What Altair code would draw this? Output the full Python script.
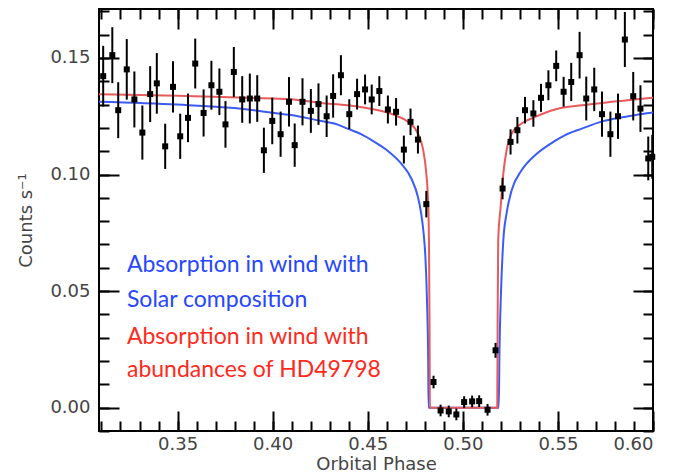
import altair as alt
import pandas as pd

# ---- data ----
phase = [0.3109, 0.3157, 0.3188, 0.3233, 0.3273, 0.3315, 0.3356, 0.3391, 0.3435, 0.3476,
         0.3514, 0.3555, 0.3593, 0.3637, 0.3678, 0.3720, 0.3752, 0.3796, 0.3840, 0.3880,
         0.3919, 0.3954, 0.3998, 0.4042, 0.4086, 0.4116, 0.4157, 0.4201, 0.4241, 0.4284,
         0.4318, 0.4359, 0.4403, 0.4444, 0.4486, 0.4521, 0.4561, 0.4606, 0.4649, 0.4690,
         0.4725, 0.4764, 0.4808, 0.4846, 0.4883, 0.4926, 0.4966, 0.5007, 0.5049, 0.5086,
         0.5130, 0.5172, 0.5209, 0.5251, 0.5287, 0.5327, 0.5371, 0.5411, 0.5450, 0.5491,
         0.5530, 0.5570, 0.5614, 0.5649, 0.5691, 0.5732, 0.5776, 0.5816, 0.5852, 0.5896,
         0.5934, 0.5975, 0.5996]
rate = [0.1422, 0.1512, 0.1276, 0.1451, 0.1322, 0.1180, 0.1345, 0.1391, 0.1121, 0.1376,
        0.1164, 0.1243, 0.1476, 0.1264, 0.1383, 0.1355, 0.1215, 0.1440, 0.1322, 0.1326,
        0.1326, 0.1104, 0.1230, 0.1173, 0.1312, 0.1126, 0.1312, 0.1273, 0.1302, 0.1250,
        0.1337, 0.1426, 0.1259, 0.1345, 0.1365, 0.1322, 0.1358, 0.1279, 0.1269, 0.1107,
        0.1226, 0.1150, 0.0873, 0.0110, -0.0012, -0.0016, -0.0029, 0.0024, 0.0027, 0.0028,
        -0.0009, 0.0246, 0.0940, 0.1140, 0.1190, 0.1276, 0.1262, 0.1329, 0.1383, 0.1466,
        0.1355, 0.1397, 0.1512, 0.1326, 0.1365, 0.1259, 0.1173, 0.1250, 0.1579, 0.1336,
        0.1283, 0.1069, 0.1076]
err = [0.0130, 0.0120, 0.0120, 0.0130, 0.0120, 0.0116, 0.0120, 0.0130, 0.0097, 0.0110,
       0.0097, 0.0104, 0.0107, 0.0101, 0.0105, 0.0100, 0.0100, 0.0107, 0.0100, 0.0107,
       0.0100, 0.0097, 0.0100, 0.0097, 0.0106, 0.0093, 0.0101, 0.0094, 0.0089, 0.0089,
       0.0093, 0.0086, 0.0064, 0.0066, 0.0064, 0.0064, 0.0064, 0.0060, 0.0059, 0.0060,
       0.0057, 0.0060, 0.0057, 0.0027, 0.0025, 0.0025, 0.0025, 0.0025, 0.0025, 0.0025,
       0.0025, 0.0032, 0.0046, 0.0054, 0.0057, 0.0057, 0.0057, 0.0060, 0.0064, 0.0066,
       0.0064, 0.0082, 0.0100, 0.0094, 0.0093, 0.0097, 0.0097, 0.0097, 0.0118, 0.0104,
       0.0100, 0.0094, 0.0094]

blue_phase = [0.3087, 0.3500, 0.3800, 0.4000, 0.4095, 0.4254, 0.4324, 0.4394, 0.4465, 0.4535,
              0.4606, 0.4676, 0.4729, 0.4764, 0.4781, 0.4794, 0.4803, 0.4812, 0.4818, 0.4820,
              0.5189, 0.5193, 0.5201, 0.5213, 0.5230, 0.5257, 0.5309, 0.5380, 0.5450, 0.5538,
              0.5626, 0.5732, 0.5870, 0.6000]
blue_rate = [0.1312, 0.1300, 0.1285, 0.1265, 0.1255, 0.1230, 0.1219, 0.1197, 0.1173, 0.1140,
             0.1101, 0.1047, 0.0983, 0.0904, 0.0833, 0.0747, 0.0650, 0.0450, 0.0200, 0.0000,
             0.0000, 0.0250, 0.0500, 0.0718, 0.0833, 0.0933, 0.1018, 0.1083, 0.1126, 0.1169,
             0.1197, 0.1228, 0.1250, 0.1266]
red_phase = [0.3087, 0.3500, 0.4000, 0.4095, 0.4254, 0.4394, 0.4535, 0.4641, 0.4711, 0.4764,
             0.4790, 0.4808, 0.4817, 0.4822, 0.4825, 0.4827, 0.5181, 0.5183, 0.5186, 0.5199,
             0.5213, 0.5230, 0.5257, 0.5309, 0.5380, 0.5485, 0.5626, 0.5732, 0.6000]
red_rate = [0.1344, 0.1338, 0.1326, 0.1323, 0.1307, 0.1297, 0.1279, 0.1255, 0.1226, 0.1176,
            0.1112, 0.1004, 0.0890, 0.0718, 0.0350, 0.0000, 0.0000, 0.0350, 0.0718, 0.0861,
            0.1004, 0.1104, 0.1176, 0.1219, 0.1247, 0.1279, 0.1297, 0.1307, 0.1329]

note_text = ["Absorption in wind with", "Solar composition",
             "Absorption in wind with", "abundances of HD49798"]
note_phase = [0.3234, 0.3234, 0.3234, 0.3234]
note_rate = [0.0581, 0.0430, 0.0272, 0.0130]
note_color = ["#2746ff", "#2746ff", "#ff2a1c", "#ff2a1c"]

major_x = [0.35, 0.40, 0.45, 0.50, 0.55, 0.60]
minor_x = [0.31, 0.32, 0.33, 0.34, 0.35, 0.36, 0.37, 0.38, 0.39, 0.40, 0.41, 0.42, 0.43,
           0.44, 0.45, 0.46, 0.47, 0.48, 0.49, 0.50, 0.51, 0.52, 0.53, 0.54, 0.55, 0.56,
           0.57, 0.58, 0.59, 0.60]
major_y = [0.00, 0.05, 0.10, 0.15]
minor_y = [-0.01, 0.00, 0.01, 0.02, 0.03, 0.04, 0.05, 0.06, 0.07, 0.08, 0.09, 0.10, 0.11,
           0.12, 0.13, 0.14, 0.15, 0.16, 0.17]

XDOM = [0.3087, 0.600]
YDOM = [-0.010, 0.171]
MAJ = 20
MIN = 10

obs = pd.DataFrame({"phase": phase, "rate": rate, "err": err})
obs["lo"] = obs["rate"] - obs["err"]
obs["hi"] = obs["rate"] + obs["err"]
blue = pd.DataFrame({"phase": blue_phase, "rate": blue_rate})
red = pd.DataFrame({"phase": red_phase, "rate": red_rate})
notes = pd.DataFrame({"phase": note_phase, "rate": note_rate, "text": note_text, "color": note_color})

xs = alt.Scale(domain=XDOM, nice=False, zero=False)
ys = alt.Scale(domain=YDOM, nice=False, zero=False)


def xaxis(orient, values, size, labels, title=None):
    kw = dict(orient=orient, values=values, tickSize=size, offset=-size, labels=labels,
              domain=False, grid=False, title=title)
    if labels:
        kw.update(format=".2f", labelPadding=4, titlePadding=2)
    return alt.Axis(**kw)


def yaxis(orient, values, size, labels, title=None):
    kw = dict(orient=orient, values=values, tickSize=size, offset=-size, labels=labels,
              domain=False, grid=False, title=title)
    if labels:
        kw.update(format=".2f", labelPadding=9, titlePadding=14)
    return alt.Axis(**kw)


blue_line = alt.Chart(blue).mark_line(color="#3a5cf5", strokeWidth=2, interpolate="monotone").encode(
    x=alt.X("phase:Q", scale=xs, axis=xaxis("top", major_x, MAJ, False)),
    y=alt.Y("rate:Q", scale=ys, axis=yaxis("right", major_y, MAJ, False)),
)
red_line = alt.Chart(red).mark_line(color="#ea5a5a", strokeWidth=2, interpolate="monotone").encode(
    x=alt.X("phase:Q", scale=xs, axis=xaxis("top", minor_x, MIN, False)),
    y=alt.Y("rate:Q", scale=ys, axis=yaxis("right", minor_y, MIN, False)),
)
bars = alt.Chart(obs).mark_rule(color="black", strokeWidth=2).encode(
    x=alt.X("phase:Q", scale=xs, axis=xaxis("bottom", major_x, MAJ, True, "Orbital Phase")),
    y=alt.Y("lo:Q", scale=ys, axis=yaxis("left", major_y, MAJ, True, "Counts s\u207b\u00b9")),
    y2="hi:Q",
)
pts = alt.Chart(obs).mark_square(color="black", size=36, opacity=1).encode(
    x=alt.X("phase:Q", scale=xs, axis=xaxis("bottom", minor_x, MIN, False)),
    y=alt.Y("rate:Q", scale=ys, axis=yaxis("left", minor_y, MIN, False)),
)
txt = alt.Chart(notes).mark_text(align="left", baseline="alphabetic", font="Lato", fontSize=23).encode(
    x=alt.X("phase:Q", scale=xs, axis=None),
    y=alt.Y("rate:Q", scale=ys, axis=None),
    text="text:N",
    color=alt.Color("color:N", scale=None),
)

chart = alt.layer(blue_line, red_line, bars, pts, txt).resolve_axis(
    x="independent", y="independent"
).properties(
    width=554, height=422,
    autosize=alt.AutoSizeParams(type="none"),
    padding={"left": 91, "top": 1, "right": 15, "bottom": 50},
).configure_axis(
    labelFont="DejaVu Sans", labelFontSize=18, labelColor="#444444",
    titleFont="DejaVu Sans", titleFontSize=18, titleColor="#444444", titleFontWeight="normal",
    tickColor="black", tickWidth=2,
).configure_view(stroke="black", strokeWidth=2)

chart.save("out.html", embed_options={"renderer": "svg", "actions": False})
